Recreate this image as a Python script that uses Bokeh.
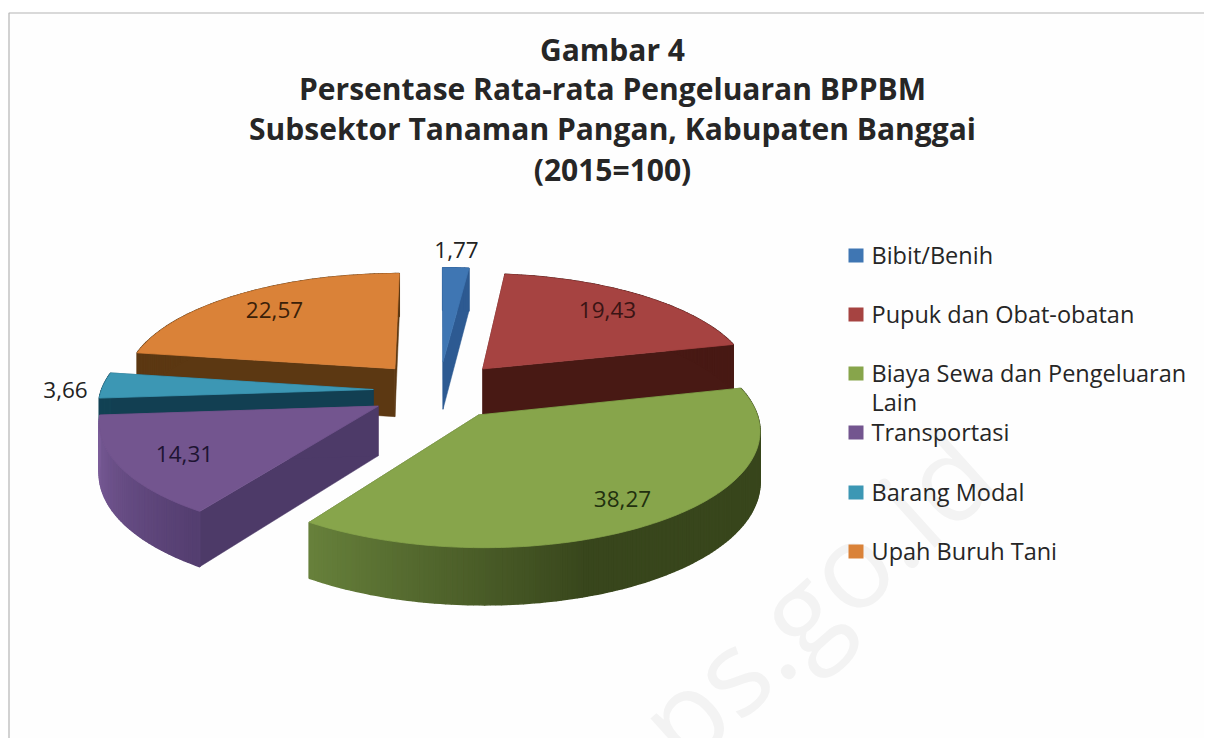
import numpy as np
from bokeh.plotting import figure
from bokeh.models import Range1d
from bokeh.core.properties import value
from bokeh.embed import file_html
from bokeh.resources import INLINE

# ---- data ----
categories = ["Bibit/Benih", "Pupuk dan Obat-obatan", "Biaya Sewa dan Pengeluaran\nLain",
              "Transportasi", "Barang Modal", "Upah Buruh Tani"]
values = [1.77, 19.43, 38.27, 14.31, 3.66, 22.57]
labels = ["1,77", "19,43", "38,27", "14,31", "3,66", "22,57"]
title_lines = ["Gambar 4", "Persentase Rata-rata Pengeluaran BPPBM",
               "Subsektor Tanaman Pangan, Kabupaten Banggai", "(2015=100)"]

# ---- styles ----
top_col = ["#3F76B3", "#A64341", "#87A54B", "#73558F", "#3C97B4", "#DA8238"]
cut_col = ["#2D5A92", "#481914", "#3A4A1C", "#4D3A68", "#123F52", "#5C3812"]
wall_a = [(45, 90, 145), (72, 25, 20), (56, 70, 28), (84, 62, 112), (18, 66, 84), (92, 56, 18)]
wall_b = [(45, 90, 145), (72, 25, 20), (104, 130, 60), (122, 92, 152), (18, 66, 84), (92, 56, 18)]
wall_ramp = [(0, 1), (0, 1), (160, 214), (214, 262), (0, 1), (0, 1)]
label_col = ["#222222", "#3A1414", "#22300F", "#1E1432", "#222222", "#3A2008"]
label_pos = [(456, 249), (607, 309), (622, 498), (184, 453), (65, 389), (274, 309)]
slice_nudge = [(2, 0), (3, 1), (3, 5), (-2, 5), (1, 3), (-1, 1)]

W, H = 1204, 738
p = figure(width=W, height=H, output_backend="svg", toolbar_location=None,
           x_range=Range1d(0, W), y_range=Range1d(H, 0), min_border=0,
           background_fill_color="#FFFFFF", border_fill_color="#FFFFFF")
p.axis.visible = False
p.grid.visible = False
p.outline_line_color = None

# frame of the pasted picture
p.quad(left=9, right=W, top=13, bottom=H, fill_color="#FEFEFE", line_color=None)
p.multi_line([[8.5, 8.5, W], ], [[H, 12.5, 12.5], ], line_color="#B4B4B4", line_width=1.2)

# watermark
p.text([972], [452], text=["ps.go.id"], angle=[np.radians(42)], text_align="right",
       text_baseline="middle", text_font=value("Open Sans"), text_font_size="118px",
       text_color="#F3F3F3")

# ---- projected exploded pie ----
CX, CY, A, B, PERS, DEPTH, EXPL = 437, 387, 111, 272, 0.12, 49, 0.24


def proj(X, Y, z=0.0):
    s = 1 / (1 + PERS * np.asarray(Y))
    return CX + B * np.asarray(X) * s, CY - A * np.asarray(Y) * s + DEPTH * s * z


edges = np.concatenate([[0], np.cumsum(values)]) / np.sum(values) * 360
for i in [5, 4, 3, 0, 1, 2]:
    t0, t1 = edges[i], edges[i + 1]
    nx, ny = slice_nudge[i]
    mid = np.radians((t0 + t1) / 2)
    ex, ey = EXPL * np.sin(mid), EXPL * np.cos(mid)
    ts = np.radians(np.linspace(t0, t1, max(int(t1 - t0), 4) + 1))
    ox, oy = ex + np.sin(ts), ey + np.cos(ts)

    # radial cut faces
    for k in (0, -1):
        x1, y1 = proj([ex, ox[k]], [ey, oy[k]], 0)
        x2, y2 = proj([ox[k], ex], [oy[k], ey], 1)
        p.patch(list(x1 + nx) + list(x2 + nx), list(y1 + ny) + list(y2 + ny), fill_color=cut_col[i],
                line_color=cut_col[i], line_width=0.5)

    # outer wall, shaded strip by strip
    for j in range(len(ts) - 1):
        x1, y1 = proj(ox[j:j + 2], oy[j:j + 2], 0)
        x2, y2 = proj(ox[j:j + 2][::-1], oy[j:j + 2][::-1], 1)
        lo, hi = wall_ramp[i]
        f = np.clip((np.degrees(ts[j]) - lo) / (hi - lo), 0, 1)
        c = tuple(int(a + (b - a) * f) for a, b in zip(wall_a[i], wall_b[i]))
        col = "#%02X%02X%02X" % c
        p.patch(list(x1 + nx) + list(x2 + nx), list(y1 + ny) + list(y2 + ny),
                fill_color=col, line_color=col, line_width=1.5)

    # top surface
    tx, ty = proj(np.concatenate([[ex], ox]), np.concatenate([[ey], oy]), 0)
    p.patch(list(tx + nx), list(ty + ny), fill_color=top_col[i], line_color=top_col[i], line_width=0.8)

# data labels
for lab, (lx, ly), col in zip(labels, label_pos, label_col):
    p.text([lx], [ly], text=[lab], text_align="center", text_baseline="middle",
           text_font=value("Open Sans"), text_font_size="22.5px", text_color=col)

# title
for line, y in zip(title_lines, [49, 88, 128, 169]):
    p.text([612], [y], text=[line], text_align="center", text_baseline="middle",
           text_font=value("Open Sans"), text_font_style="bold", text_font_size="30px",
           text_color="#262626")

# legend
rows = [254, 313, 372, 431, 491, 550]
for cat, y, col in zip(categories, rows, top_col):
    p.quad(left=848, right=863, top=y - 6, bottom=y + 8, fill_color=col, line_color=None)
    for n, part in enumerate(cat.split("\n")):
        p.text([871], [y + 29 * n], text=[part], text_baseline="middle",
               text_font=value("Open Sans"), text_font_size="23.5px", text_color="#262626")

open("out.html", "w").write(file_html(p, INLINE))
